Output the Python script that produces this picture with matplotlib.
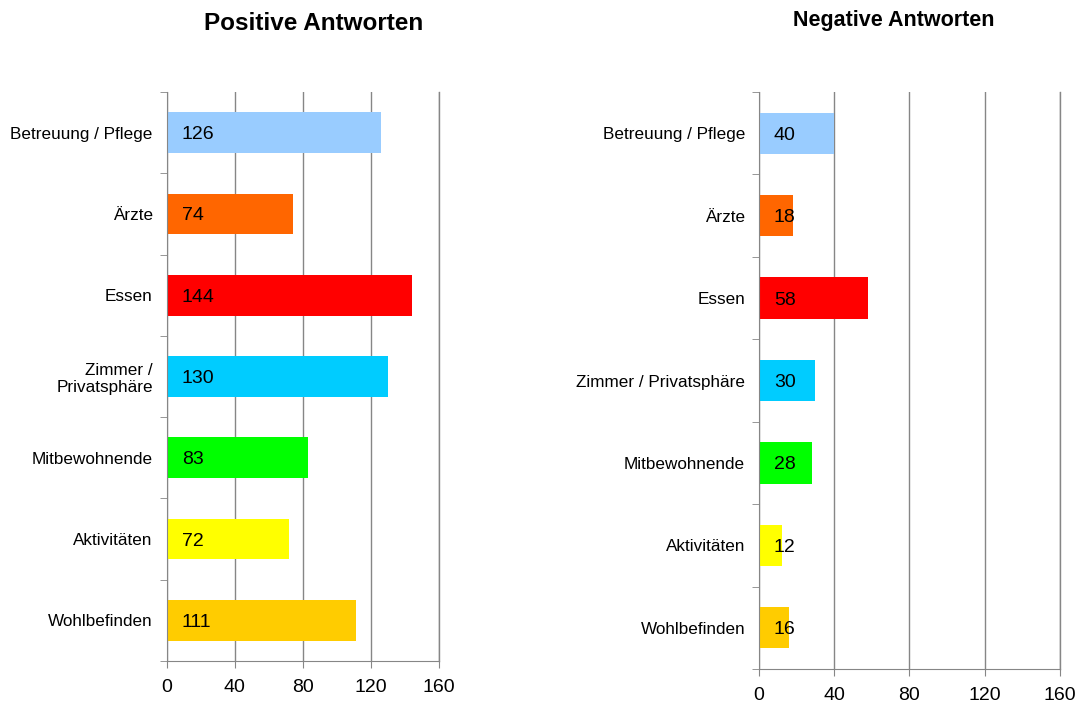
import numpy as np
import matplotlib
matplotlib.use('Agg')
import matplotlib.pyplot as plt

plt.rcParams['font.family'] = ['Liberation Sans', 'DejaVu Sans']

# data
labels_pos = ['Betreuung / Pflege', 'Ärzte', 'Essen', 'Zimmer /\nPrivatsphäre',
              'Mitbewohnende', 'Aktivitäten', 'Wohlbefinden']
labels_neg = ['Betreuung / Pflege', 'Ärzte', 'Essen', 'Zimmer / Privatsphäre',
              'Mitbewohnende', 'Aktivitäten', 'Wohlbefinden']
positive = [126, 74, 144, 130, 83, 72, 111]
negative = [40, 18, 58, 30, 28, 12, 16]
colors = ['#99CCFF', '#FF6600', '#FF0000', '#00CCFF', '#00FF00', '#FFFF00', '#FFCC00']
xticks = [0, 40, 80, 120, 160]

grey = '#868686'

fig = plt.figure(figsize=(10.79, 7.04), dpi=100)
ax1 = fig.add_axes([0.1545, 0.0611, 0.2526, 0.8082])
ax2 = fig.add_axes([0.7034, 0.0497, 0.2790, 0.8196])


def draw(ax, labels, values):
    n = len(values)
    y = np.arange(n)
    ax.barh(y, values, height=0.5, color=colors, zorder=3)
    for yi, v in zip(y, values):
        ax.annotate(str(v), xy=(0, yi), xytext=(15, -2), textcoords='offset pixels',
                    ha='left', va='center', fontsize=14, zorder=4)
    ax.set_xlim(0, 160)
    ax.set_ylim(n - 0.5, -0.5)
    ax.set_xticks(xticks)
    ax.set_xticklabels([str(t) for t in xticks], fontsize=14)
    ax.set_yticks(y)
    ax.set_yticklabels(labels, fontsize=12.3)
    ax.set_yticks(np.arange(n + 1) - 0.5, minor=True)
    ax.tick_params(axis='y', which='major', length=0, pad=10)
    ax.tick_params(axis='y', which='minor', length=5, color=grey, direction='out')
    ax.tick_params(axis='x', length=5, color=grey, direction='out', pad=8)
    ax.grid(axis='x', color=grey, linewidth=1, zorder=0)
    ax.axvline(160, color=grey, linewidth=1, clip_on=False, zorder=0)
    for s in ['top', 'right']:
        ax.spines[s].set_visible(False)
    for s in ['left', 'bottom']:
        ax.spines[s].set_color(grey)
        ax.spines[s].set_zorder(5)


draw(ax1, labels_pos, positive)
draw(ax2, labels_neg, negative)

fig.text(0.291, 0.967, 'Positive Antworten', ha='center', va='center',
         fontsize=17.5, fontweight='bold')
fig.text(0.828, 0.971, 'Negative Antworten', ha='center', va='center',
         fontsize=15.5, fontweight='bold')

fig.savefig('out.png', dpi=100)
